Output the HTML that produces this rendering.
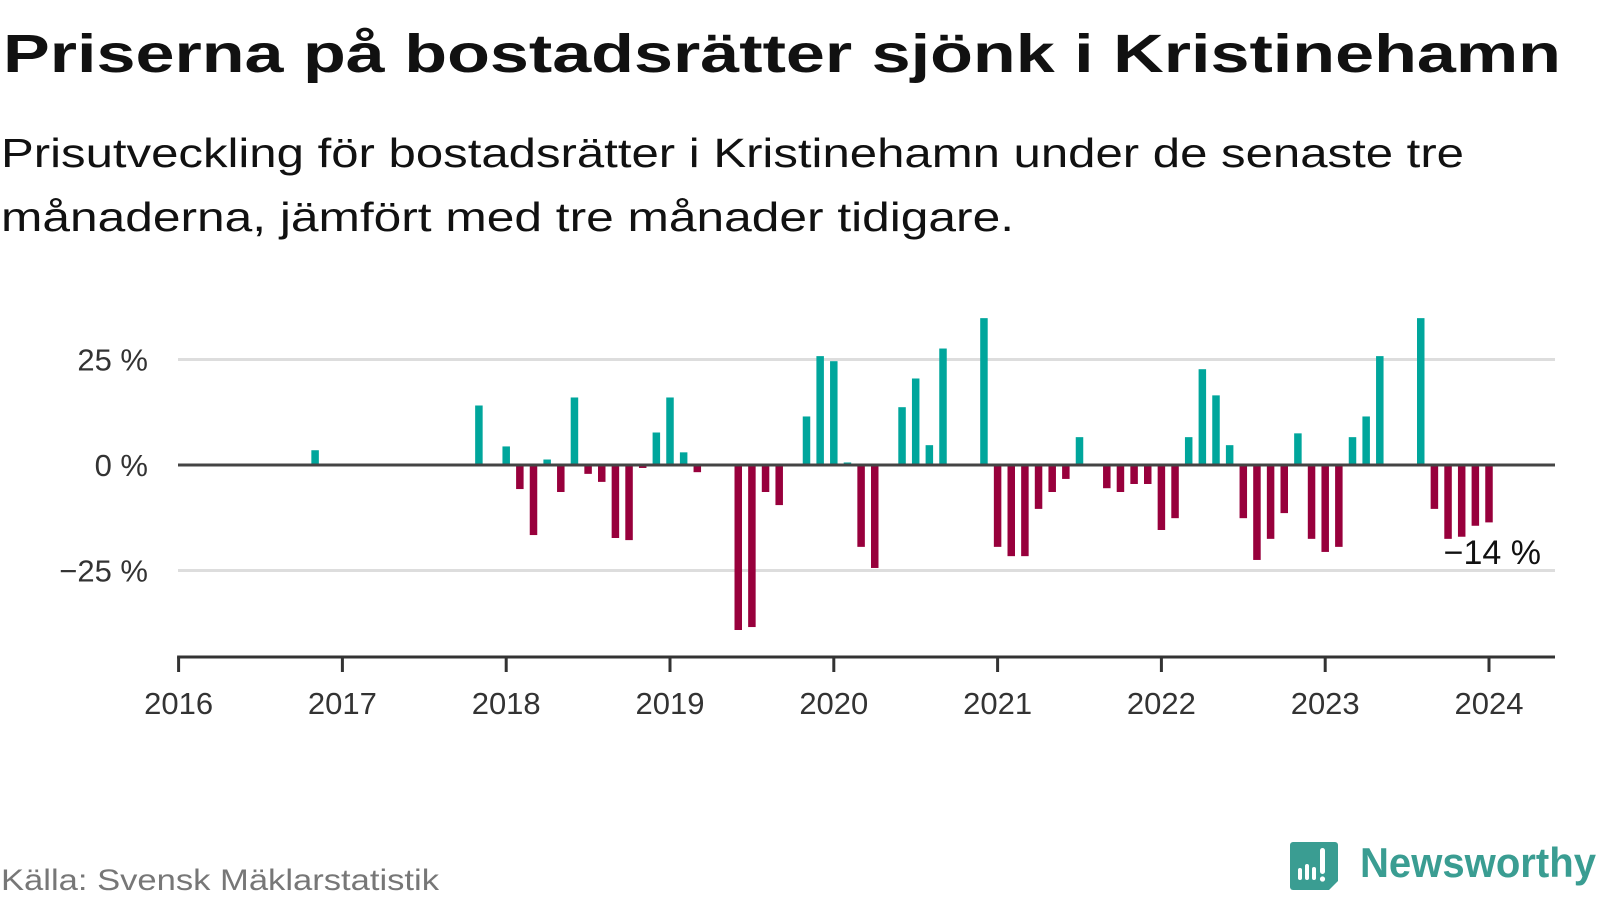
<!DOCTYPE html>
<html><head><meta charset="utf-8">
<style>
html,body{margin:0;padding:0;background:#fff;}
svg{display:block;font-family:"Liberation Sans","DejaVu Sans",sans-serif;}
</style></head>
<body>
<svg id="chart" width="1600" height="900" viewBox="0 0 1600 900" xmlns="http://www.w3.org/2000/svg">
  <text x="3" y="72" font-size="54" font-weight="bold" fill="#111" textLength="1558" lengthAdjust="spacingAndGlyphs">Priserna på bostadsrätter sjönk i Kristinehamn</text>
  <text x="1" y="167" font-size="41" fill="#111" textLength="1463" lengthAdjust="spacingAndGlyphs">Prisutveckling för bostadsrätter i Kristinehamn under de senaste tre</text>
  <text x="1" y="231" font-size="41" fill="#111" textLength="1013" lengthAdjust="spacingAndGlyphs">månaderna, jämfört med tre månader tidigare.</text>
  <g id="grid"></g>
  <g id="bars"></g>
  <g id="axes"></g>
  <text x="1" y="890" font-size="30" fill="#777" textLength="438" lengthAdjust="spacingAndGlyphs">Källa: Svensk Mäklarstatistik</text>
  <g>
    <path d="M1293 842 h42 a3 3 0 0 1 3 3 v36 l-9 9 h-36 a3 3 0 0 1 -3 -3 v-42 a3 3 0 0 1 3 -3z" fill="#3a9d92"/>
    <rect x="1298" y="868" width="4" height="12" rx="2" fill="#fff"/>
    <rect x="1305" y="864" width="4" height="16" rx="2" fill="#fff"/>
    <rect x="1312" y="867" width="4" height="13" rx="2" fill="#fff"/>
    <rect x="1320" y="848" width="5" height="26" rx="2.5" fill="#fff"/>
    <circle cx="1322.5" cy="879" r="2.6" fill="#fff"/>
    <text x="1360" y="877" font-size="42" font-weight="bold" fill="#3a9d92" textLength="236" lengthAdjust="spacingAndGlyphs">Newsworthy</text>
  </g>
</svg>
<script>
// month index since Jan 2016
const months = [10,22,24,25,26,27,28,29,30,31,32,33,34,35,36,37,38,41,42,43,44,46,47,48,49,50,51,53,54,55,56,59,60,61,62,63,64,65,66,68,69,70,71,72,73,74,75,76,77,78,79,80,81,82,83,84,85,86,87,88,91,92,93,94,95,96];
const values = [3.5,14.1,4.4,-5.7,-16.6,1.3,-6.4,16.0,-2.1,-4.0,-17.3,-17.8,-0.7,7.7,16.0,3.0,-1.7,-39.1,-38.4,-6.4,-9.5,11.5,25.8,24.6,0.6,-19.4,-24.4,13.7,20.5,4.7,27.6,34.8,-19.4,-21.6,-21.6,-10.4,-6.4,-3.3,6.6,-5.5,-6.4,-4.5,-4.5,-15.4,-12.6,6.6,22.7,16.5,4.7,-12.6,-22.5,-17.5,-11.4,7.5,-17.5,-20.6,-19.4,6.6,11.5,25.8,34.8,-10.4,-17.5,-17.0,-14.4,-13.6];
const yTicks = [25,0,-25];
const yTickLabels = ["25 %","0 %","\u221225 %"];
const years = [2016,2017,2018,2019,2020,2021,2022,2023,2024];

const NS="http://www.w3.org/2000/svg";
const x0=178.6, yearW=163.8, xEnd=1555;
const y0=465, pxPer=4.22, axisY=657;
const xm = m => x0 + m*yearW/12;
const xy = yr => x0 + (yr-2016)*yearW;
const yv = v => y0 - v*pxPer;
function mk(tag, attrs, parent){const e=document.createElementNS(NS,tag);for(const k in attrs)e.setAttribute(k,attrs[k]);parent.appendChild(e);return e;}

const grid=document.getElementById('grid');
yTicks.forEach((t,i)=>{
  if(t!==0){
    const l=mk('line',{x1:178,x2:xEnd,y1:yv(t),y2:yv(t),stroke:'#dddddd','stroke-width':3},grid);
    
    
  }
  const tx=mk('text',{x:148,y:yv(t)+11,'text-anchor':'end','font-size':31,fill:'#333'},grid);
  
  
  tx.textContent=yTickLabels[i];
});

const bars=document.getElementById('bars');
const bw=7.5;
months.forEach((m,i)=>{
  const v=values[i];
  const top=Math.min(yv(v),y0), h=Math.abs(yv(v)-y0);
  const r=mk('rect',{x:xm(m)-bw/2,y:top,width:bw,height:h,fill:v>=0?'#00a69c':'#98003c'},bars);
  
  
});

const axes=document.getElementById('axes');
const zl=mk('line',{x1:178,x2:xEnd,y1:y0,y2:y0,stroke:'#444','stroke-width':3},axes);


const ax=mk('line',{x1:x0-1.5,x2:xEnd,y1:axisY,y2:axisY,stroke:'#333','stroke-width':3},axes);


years.forEach(yr=>{
  const tk=mk('line',{x1:xy(yr),x2:xy(yr),y1:axisY,y2:axisY+15,stroke:'#333','stroke-width':3},axes);
  
  
  const t=mk('text',{x:xy(yr),y:714,'text-anchor':'middle','font-size':31,fill:'#333'},axes);
  
  
  t.textContent=yr;
});

// last value annotation
const last=values[values.length-1];
const lab=mk('text',{x:1541,y:564,'text-anchor':'end','font-size':34,fill:'#111',stroke:'#fff','stroke-width':6,'paint-order':'stroke','stroke-linejoin':'round'},axes);


lab.textContent='\u2212'+Math.abs(Math.round(last))+' %';
</script>
</body></html>
